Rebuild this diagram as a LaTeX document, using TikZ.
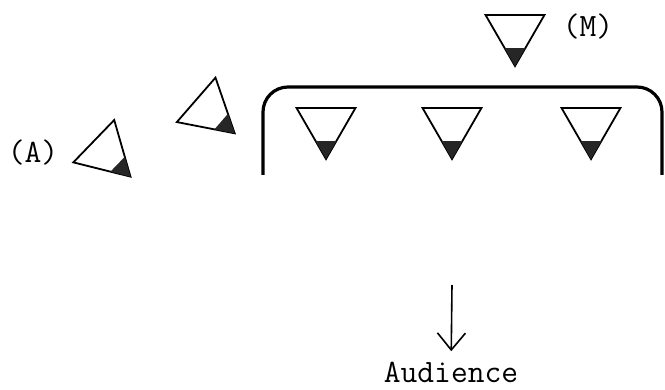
\documentclass[tikz,border=0pt]{standalone}
\usepackage{fontspec}
\usetikzlibrary{shapes.geometric, arrows.meta, calc}

\begin{document}
\begin{tikzpicture}[x=0.5pt, y=-0.5pt,
    seat/.style={regular polygon, regular polygon sides=3, draw, line width=0.9pt, minimum size=34pt, inner sep=0pt, outer sep=0pt},
    note/.style={font=\ttfamily\fontsize{16.3}{19}\selectfont, inner sep=0pt},
    stage/.style={line width=1.6pt, rounded corners=12.5pt},
    arrow/.style={-{Straight Barb[length=8.5pt, width=14pt]}, line width=0.8pt}
]
\useasboundingbox (0,0) rectangle (665,390);

% Stage
\draw[stage] (263,175) -- (263,87) -- (662,87) -- (662,175);

% Seats
\node[seat, shape border rotate=180] (s1) at (326,125) {};
\node[seat, shape border rotate=180] (s2) at (452,125) {};
\node[seat, shape border rotate=180] (s3) at (591,125) {};
\node[seat, shape border rotate=180] (m) at (515,32) {};
\node[seat, shape border rotate=229] (b) at (209,111) {};
\node[seat, shape border rotate=226] (a) at (106,153) {};

% Shaded tips
\foreach \s in {s1,s2,s3,m,a,b} {
  \fill[black!85] (\s.corner 1) -- ($(\s.corner 1)!0.35!(\s.corner 2)$) -- ($(\s.corner 1)!0.35!(\s.corner 3)$) -- cycle;
}

% Labels
\node[note] (alabel) at (33,153) {(A)};
\node[note] (mlabel) at (588,27) {(M)};
\node[note, anchor=base] (audience) at (451,382) {Audience};

% Arrow
\coordinate (front) at (452,285);
\draw[arrow, shorten >=5pt] (front) -- (audience);

\end{tikzpicture}
\end{document}
